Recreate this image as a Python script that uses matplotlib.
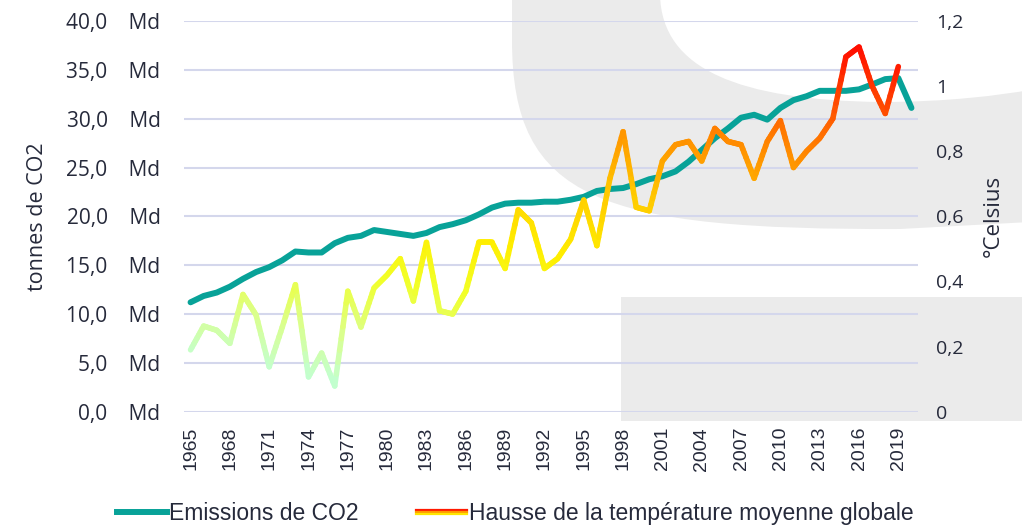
import matplotlib
matplotlib.use("Agg")
import numpy as np
import matplotlib.pyplot as plt
from matplotlib.collections import LineCollection
from matplotlib.colors import LinearSegmentedColormap
from matplotlib.lines import Line2D
from matplotlib.legend_handler import HandlerBase
from matplotlib.patches import PathPatch, Rectangle
from matplotlib.path import Path
from matplotlib.ticker import FuncFormatter, MultipleLocator

# ---- data ----
years = list(range(1965, 2021))
co2_md = [11.2, 11.85, 12.2, 12.8, 13.6, 14.3, 14.8, 15.5, 16.4, 16.3,
          16.3, 17.25, 17.8, 18.0, 18.6, 18.4, 18.2, 18.0, 18.3, 18.9,
          19.2, 19.6, 20.2, 20.9, 21.3, 21.4, 21.4, 21.5, 21.5, 21.7,
          22.0, 22.6, 22.8, 22.9, 23.3, 23.8, 24.1, 24.6, 25.6, 26.8,
          28.0, 29.0, 30.1, 30.4, 29.9, 31.1, 31.9, 32.3, 32.85, 32.85,
          32.85, 33.0, 33.5, 34.05, 34.15, 31.1]
temp_c = [0.19, 0.263, 0.25, 0.21, 0.36, 0.297, 0.138, 0.26, 0.39, 0.107,
          0.18, 0.079, 0.37, 0.26, 0.38, 0.42, 0.47, 0.34, 0.52, 0.31,
          0.30, 0.37, 0.52, 0.52, 0.44, 0.62, 0.58, 0.44, 0.47, 0.53,
          0.65, 0.51, 0.717, 0.86, 0.628, 0.617, 0.77, 0.82, 0.83, 0.77,
          0.87, 0.83, 0.82, 0.717, 0.83, 0.894, 0.75, 0.80, 0.84, 0.90,
          1.09, 1.12, 1.00, 0.916, 1.06]  # 1965-2019
tick_years = list(range(1965, 2020, 3))

TEAL = "#08a298"
GRID = "#d4d7ec"
TXT = "#262a3b"
GREY = "#ebebeb"

fig = plt.figure(figsize=(10.22, 5.26), dpi=100)

# ---- background watermark (pixel coords -> figure fraction) ----
W, H = 1022, 526
def fp(x, y):
    return (x / W, 1 - y / H)

verts = [fp(660, -5), fp(662, 70), fp(740, 100), fp(880, 102),
         fp(950, 102), fp(1000, 95), fp(1030, 90),
         fp(1030, 222), fp(900, 229),
         fp(600, 230), fp(512, 200), fp(512, 40),
         fp(512, -5), fp(660, -5)]
codes = [Path.MOVETO, Path.CURVE4, Path.CURVE4, Path.CURVE4,
         Path.CURVE4, Path.CURVE4, Path.CURVE4,
         Path.LINETO, Path.LINETO,
         Path.CURVE4, Path.CURVE4, Path.CURVE4,
         Path.LINETO, Path.CLOSEPOLY]
fig.add_artist(PathPatch(Path(verts, codes), facecolor=GREY, edgecolor="none",
                         transform=fig.transFigure, zorder=-5))
fig.add_artist(Rectangle(fp(620.7, 420.7), (1030 - 620.7) / W, 124 / H,
                         facecolor=GREY, edgecolor="none",
                         transform=fig.transFigure, zorder=-5))

# ---- axes ----
ax = fig.add_axes([184 / W, 1 - 411.7 / H, 734 / W, 390.7 / H])
ax.patch.set_visible(False)
x = np.arange(len(years))
ax.plot(x, co2_md, color=TEAL, lw=4.3, solid_capstyle="round",
        solid_joinstyle="round", zorder=3)
ax.set_xlim(-0.5, len(years) - 0.5)
ax.set_ylim(0, 40)
ax.yaxis.set_major_locator(MultipleLocator(5))
ax.yaxis.set_major_formatter(
    FuncFormatter(lambda v, p: f"{v:.1f}".replace(".", ",") + "    Md"))
ax.grid(axis="y", color=GRID, lw=1.5)
ax.set_axisbelow(True)
for s in ax.spines.values():
    s.set_visible(False)
ax.set_xticks([years.index(y) for y in tick_years])
ax.set_xticklabels([str(y) for y in tick_years], rotation=90,
                   fontsize=14, family="Liberation Sans", color=TXT)
ax.tick_params(axis="x", length=0, pad=11)
ax.tick_params(axis="y", length=0, pad=17, labelsize=15, labelcolor=TXT)
plt.setp(ax.get_yticklabels(), family="Open Sans")
ax.set_ylabel("tonnes de CO2", fontsize=15.5, family="Open Sans", color=TXT,
              labelpad=13)

# ---- temperature on right axis, gradient coloured ----
ax2 = ax.twinx()
ax2.patch.set_visible(False)
ax2.set_ylim(0, 1.2)
ax2.yaxis.set_major_locator(MultipleLocator(0.2))
ax2.yaxis.set_major_formatter(
    FuncFormatter(lambda v, p: f"{round(v, 1):g}".replace(".", ",")))
for s in ax2.spines.values():
    s.set_visible(False)
ax2.tick_params(axis="y", length=0, pad=13, labelsize=14, labelcolor=TXT)
plt.setp(ax2.get_yticklabels(), family="Open Sans")
ax2.set_ylabel("°Celsius", fontsize=16, family="Open Sans", color=TXT,
               labelpad=14)

cmap = LinearSegmentedColormap.from_list("heat", [
    (0.00, "#a0ffec"), (0.12, "#c4ffcc"), (0.22, "#dcff88"),
    (0.34, "#f2ff28"), (0.45, "#ffee00"), (0.60, "#ffc800"),
    (0.72, "#ff9400"), (0.85, "#ff5000"), (1.00, "#ff0000")])

# split each segment into short pieces so the colour ramps smoothly
tx = np.arange(len(temp_c), dtype=float)
ty = np.array(temp_c)
n_sub = 8
segs, tvals = [], []
for i in range(len(tx) - 1):
    for k in range(n_sub):
        a, b = k / n_sub, (k + 1) / n_sub
        x0 = tx[i] + (tx[i + 1] - tx[i]) * a
        x1 = tx[i] + (tx[i + 1] - tx[i]) * b
        y0 = ty[i] + (ty[i + 1] - ty[i]) * a
        y1 = ty[i] + (ty[i + 1] - ty[i]) * b
        segs.append([(x0, y0), (x1, y1)])
        mx = (x0 + x1) / 2 / (len(years) - 1)
        my = (y0 + y1) / 2 / 1.13
        tvals.append(min(max(0.75 * my + 0.25 * mx, 0), 1))
lc = LineCollection(segs, colors=cmap(np.array(tvals)), linewidths=4.0,
                    capstyle="round", joinstyle="round", zorder=4)
ax2.add_collection(lc)

# ---- legend ----
class GradientKey:
    colors = ["#ff1a00", "#ff9a00", "#ffe600"]

class GradientHandler(HandlerBase):
    def create_artists(self, legend, orig_handle, xdescent, ydescent,
                       width, height, fontsize, trans):
        arts = []
        for i, c in enumerate(orig_handle.colors):
            yy = height / 2 - ydescent + (1 - i) * 1.5
            arts.append(Line2D([-xdescent, width - xdescent], [yy, yy],
                               color=c, lw=1.6, transform=trans))
        return arts

h1 = Line2D([0], [0], color=TEAL, lw=4.3)
leg = fig.legend([h1, GradientKey()],
                 ["Emissions de CO2", "Hausse de la température moyenne globale"],
                 handler_map={GradientKey: GradientHandler()},
                 loc="lower center", bbox_to_anchor=(0.504, -0.038), ncol=2,
                 frameon=False, handlelength=2.2, handletextpad=0.1,
                 columnspacing=2.5,
                 prop={"family": "Liberation Sans", "size": 16.5})
for t_ in leg.get_texts():
    t_.set_color(TXT)

fig.savefig("out.png", dpi=100)
